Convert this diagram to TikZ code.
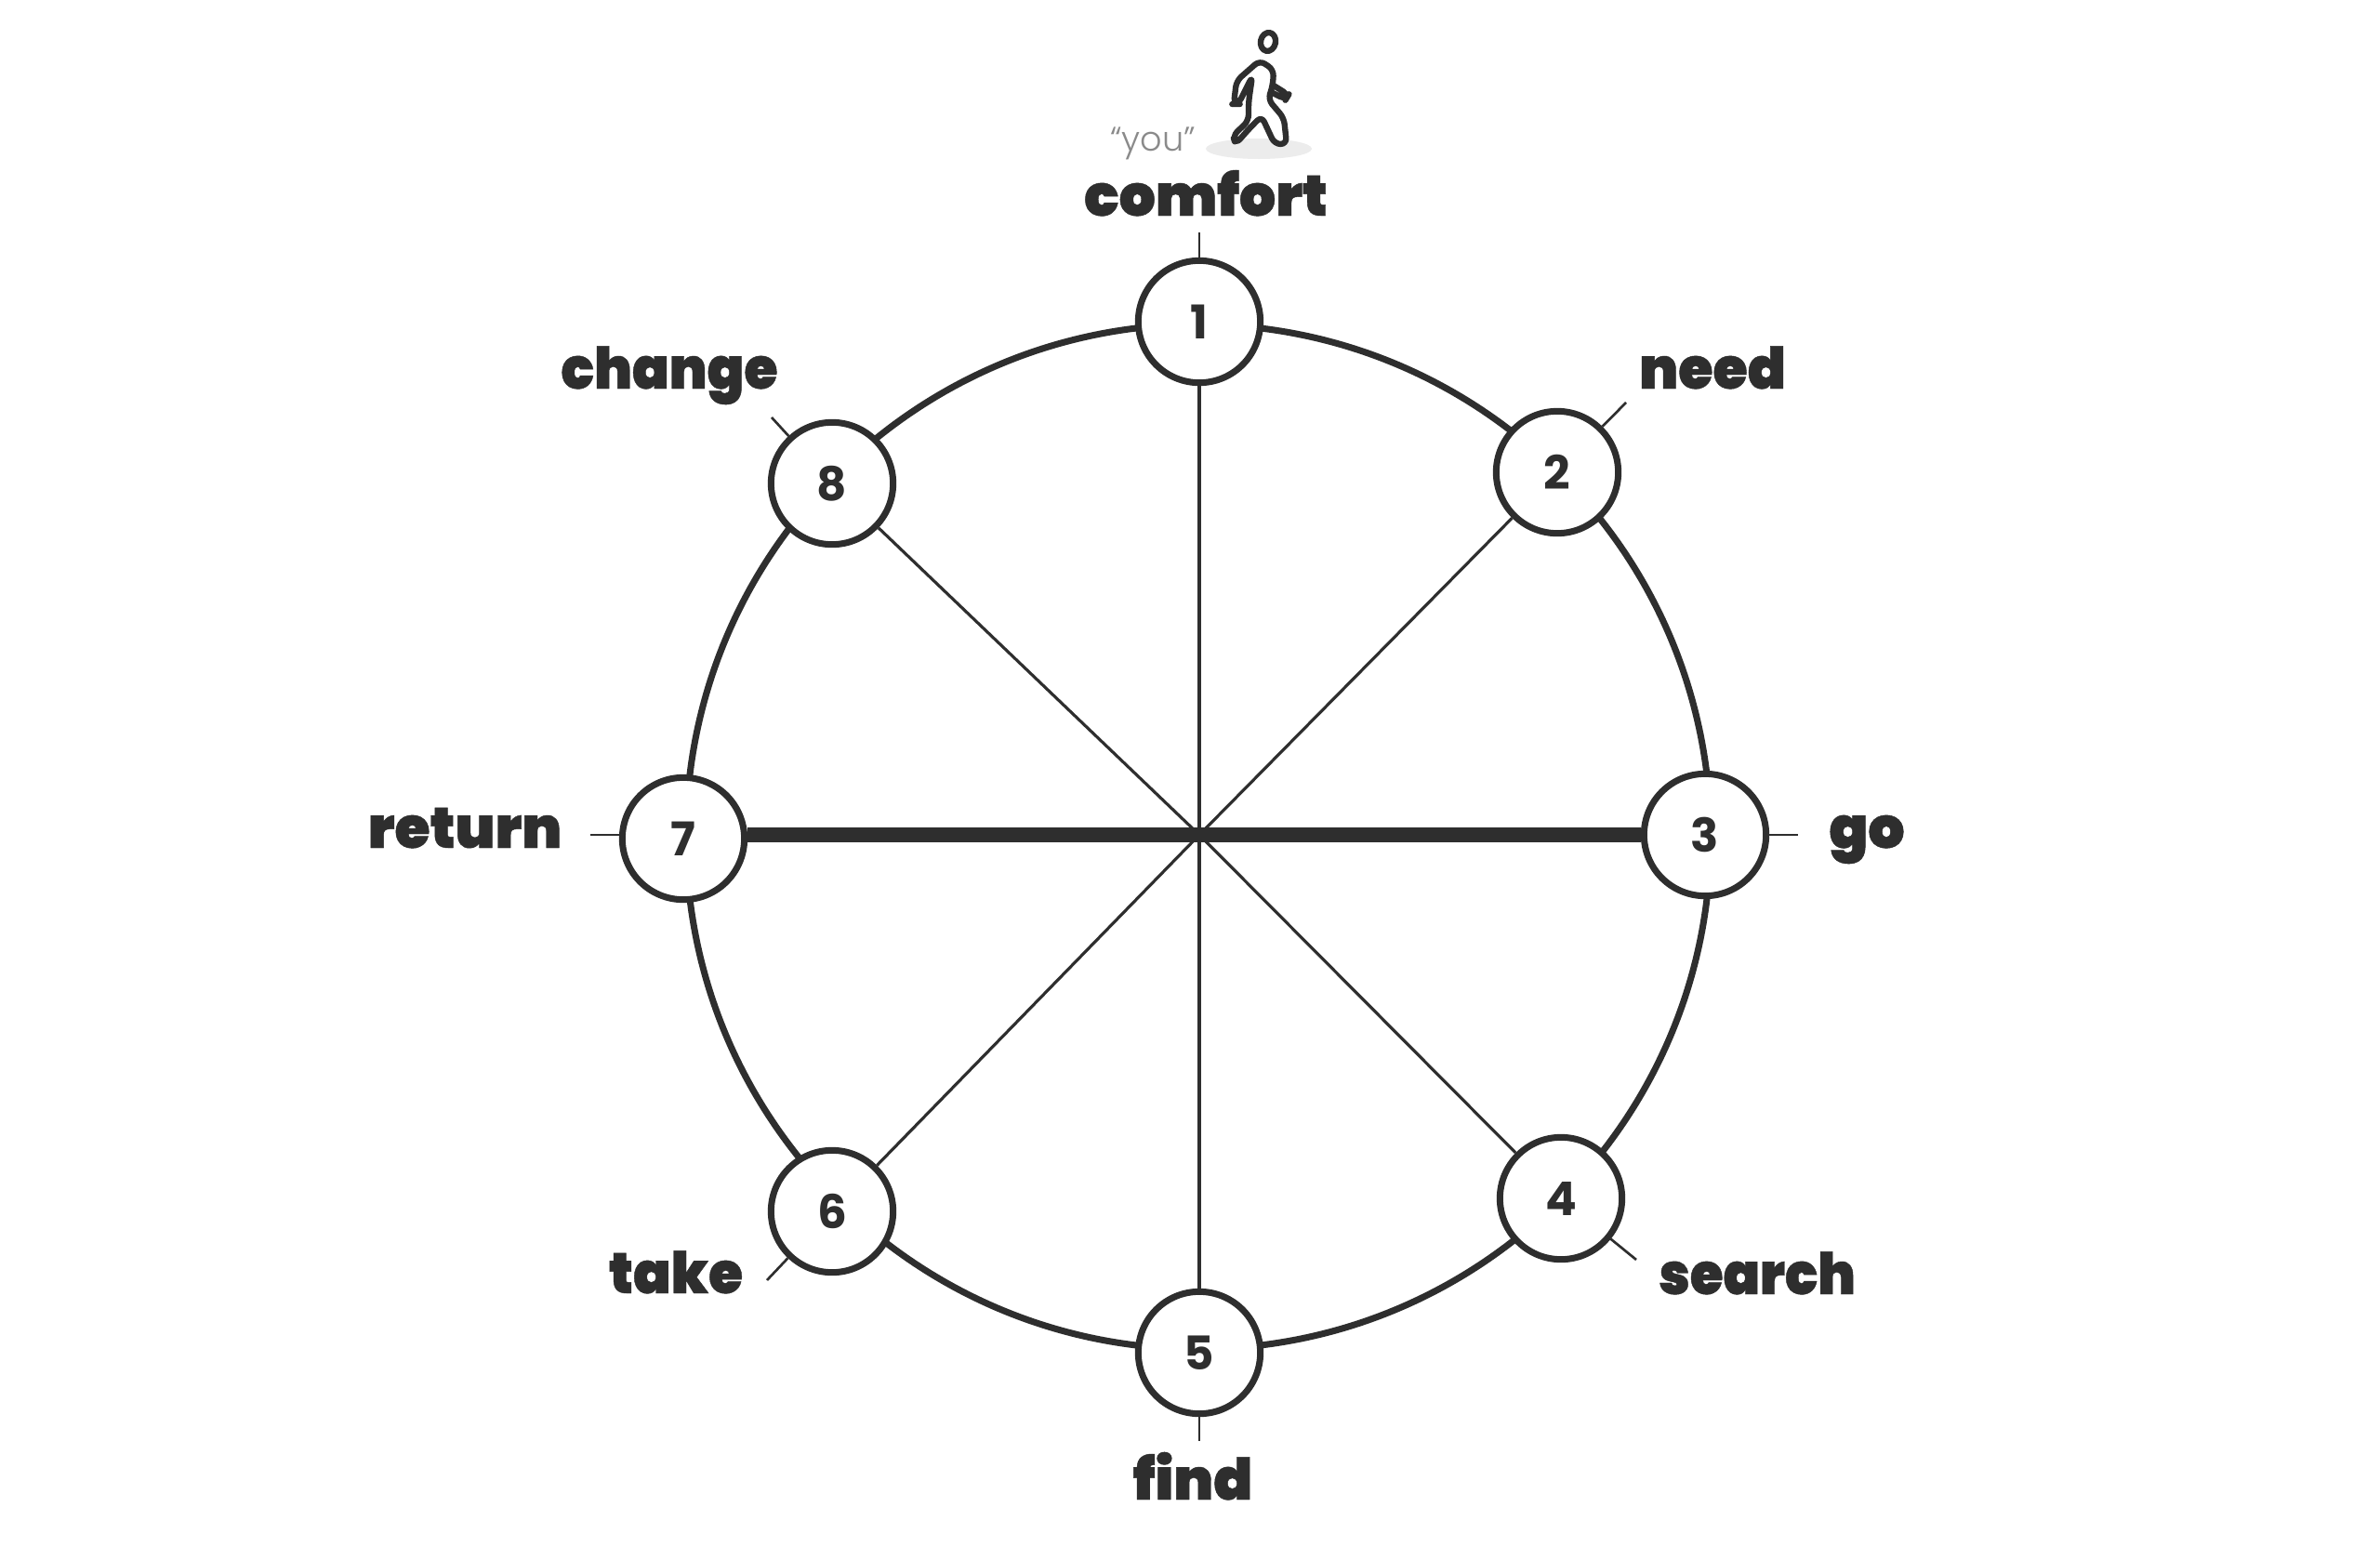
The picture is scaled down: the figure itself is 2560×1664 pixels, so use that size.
\documentclass[tikz,border=0pt]{standalone}
\usepackage{fontspec}
\usepackage{tikz}
\newfontfamily\wordfont{Poppins Black}[FakeBold=0.7]
\newfontfamily\digitfont{Poppins Bold}
\newfontfamily\youfont{Poppins Light}
\definecolor{ink}{HTML}{2E2E2E}
\definecolor{puddle}{HTML}{ECECEC}
\definecolor{youink}{HTML}{8A8A8A}

\begin{document}
\begin{tikzpicture}
                [
                x=0.3pt,y=-0.3pt,
                vertex/.style={circle,draw=ink,fill=white,line width=2.1pt,minimum size=39.4pt,inner sep=0pt,text=ink,font=\digitfont\fontsize{15}{15}\selectfont},
                word/.style={anchor=base,inner sep=0pt,text=ink,font=\wordfont\fontsize{18.5}{18.5}\selectfont},
                ring/.style={draw=ink,line width=2.1pt},
                spoke/.style={draw=ink,line width=0.95pt},
                axle/.style={draw=ink,line width=4.6pt},
                tick/.style={draw=ink,line width=0.8pt},
                walker/.style={draw=ink,line width=1.9pt,fill=white,rounded corners=2pt,line join=round}
                ]
            \useasboundingbox (0,0) rectangle (2560,1664);
            \fill[white] (0,0) rectangle (2560,1664);
            \coordinate (hub) at (1290,898);
            \coordinate (ringmid) at (1289,900);
            \draw[ring] (ringmid) circle [radius=551];
            \node[vertex] (1) at (1290,346) {1};
            \node[vertex] (2) at (1675,508) {2};
            \node[vertex] (3) at (1834,898) {3};
            \node[vertex] (4) at (1679,1289) {4};
            \node[vertex] (5) at (1290,1455) {5};
            \node[vertex] (6) at (895,1303) {6};
            \node[vertex] (7) at (735,902) {7};
            \node[vertex] (8) at (895,520) {8};
            \draw[spoke] (hub) -- (1);
            \draw[spoke] (hub) -- (2);
            \draw[spoke] (hub) -- (4);
            \draw[spoke] (hub) -- (5);
            \draw[spoke] (hub) -- (6);
            \draw[spoke] (hub) -- (8);
            \draw[axle] (hub) -- (3);
            \draw[axle] (hub) -- (hub -| 7.east);
            \coordinate (tick1) at (1290,250);
            \coordinate (tick2) at (1749,433);
            \coordinate (tick3) at (1934,898);
            \coordinate (tick4) at (1760,1355);
            \coordinate (tick5) at (1290,1550);
            \coordinate (tick6) at (825,1377);
            \coordinate (tick7) at (635,898);
            \coordinate (tick8) at (830,449);
            \draw[tick] (1) -- (tick1);
            \draw[tick] (2) -- (tick2);
            \draw[tick] (3) -- (tick3);
            \draw[tick] (4) -- (tick4);
            \draw[tick] (5) -- (tick5);
            \draw[tick] (6) -- (tick6);
            \draw[tick] (tick7 -| 7.west) -- (tick7);
            \draw[tick] (8) -- (tick8);
            \node[word] (comfort) at (1297,232) {comfort};
            \node[word] (need) at (1842,418) {\scalebox{0.98}[1]{need}};
            \node[word] (go) at (2008,912) {go};
            \node[word] (search) at (1890,1392) {\scalebox{0.94}[1]{search}};
            \node[word] (find) at (1283,1613) {find};
            \node[word] (take) at (727,1391) {\scalebox{0.97}[1]{take}};
            \node[word] (return) at (500,912) {return};
            \node[word] (change) at (720,418) {\scalebox{0.95}[1]{change}};
            \node[anchor=base,inner sep=0pt,text=youink,font=\youfont\fontsize{11}{11}\selectfont] (you) at (1240,162) {“you”};
            \fill[puddle] (1354,160) ellipse [x radius=57,y radius=11];
            \draw[walker,rotate around={-12:(1364,45)}] (1364,45) ellipse [x radius=8,y radius=10];
            \draw[walker] (1370,92) -- (1386,102) -- (1383,107) -- (1365,98);
            \draw[walker] (1355,65) -- (1370,75) -- (1369,92) -- (1364,107) -- (1381,127) -- (1384,155) -- (1371,155) -- (1357,125) -- (1345,137) -- (1329,155) -- (1326,146) -- (1343,130) -- (1343,110) -- (1347,82) -- (1332,112) -- (1327,112) -- (1330,87) -- cycle;
        \end{tikzpicture}
\end{document}
